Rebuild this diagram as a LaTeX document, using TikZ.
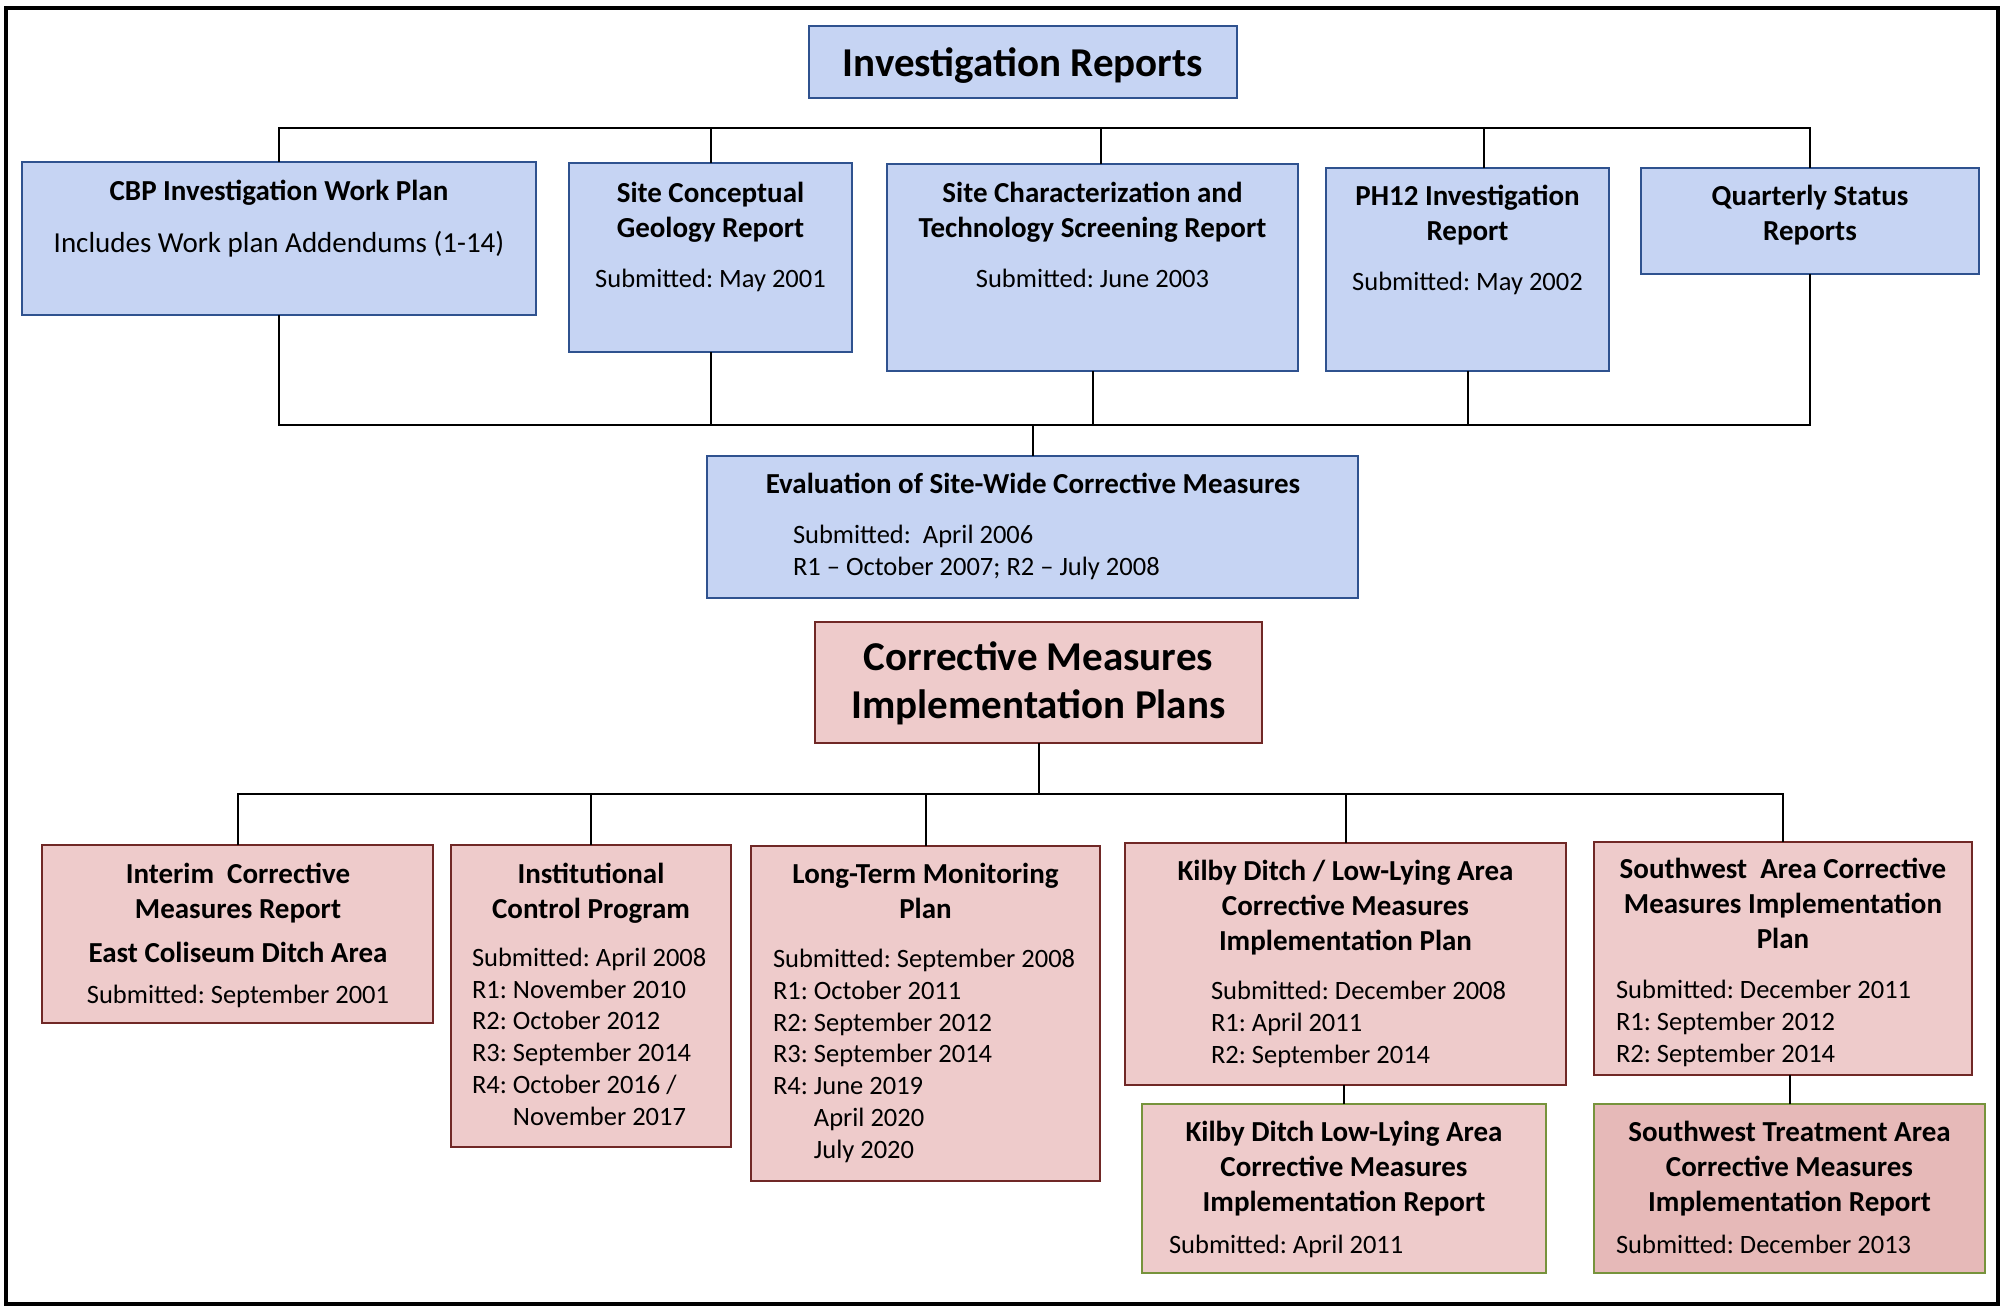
\documentclass[tikz,border=0pt]{standalone}
\usepackage{fontspec}
\setmainfont{Carlito}
\usetikzlibrary{calc}

\definecolor{invfill}{RGB}{198,212,243}
\definecolor{invline}{RGB}{47,82,143}
\definecolor{cmfill}{RGB}{238,203,203}
\definecolor{cmdark}{RGB}{230,185,184}
\definecolor{cmline}{RGB}{112,40,38}
\definecolor{rptline}{RGB}{119,147,60}
\frenchspacing

\begin{document}
\begin{tikzpicture}[x=1pt, y=-1pt,
  every node/.style={inner sep=0pt, outer sep=0pt},
  ibox/.style={draw=invline, fill=invfill, line width=2.2pt, anchor=north west},
  cbox/.style={draw=cmline, fill=cmfill, line width=2.2pt, anchor=north west},
  rbox/.style={draw=rptline, fill=cmfill, line width=2pt, anchor=north west},
  head/.style={anchor=base, align=center, font=\bfseries\fontsize{29}{35}\selectfont},
  big/.style={anchor=base, align=center, font=\bfseries\fontsize{41}{48}\selectfont},
  sub/.style={anchor=base west, align=left, font=\fontsize{26.5}{31.7}\selectfont},
  subc/.style={anchor=base, align=center, font=\fontsize{26.5}{31.7}\selectfont},
  link/.style={line width=2pt}]
\fill[white] (0,0) rectangle (2007,1307);
\draw[line width=4pt] (6,8) rectangle (1998,1304);

% investigation reports (text nodes sit on the baseline of their last line)
\node[ibox, minimum width=428, minimum height=72] (inv) at (809,26) {};
\node[ibox, minimum width=514, minimum height=153] (cbp) at (22,162) {};
\node[ibox, minimum width=283, minimum height=189] (scg) at (569,163) {};
\node[ibox, minimum width=411, minimum height=207] (sct) at (887,164) {};
\node[ibox, minimum width=283, minimum height=203] (ph) at (1326,168) {};
\node[ibox, minimum width=338, minimum height=106] (qsr) at (1641,168) {};
\node[ibox, minimum width=651, minimum height=142] (eval) at (707,456) {};

\node[big] (invt) at (1023,76) {Investigation Reports};
\node[head] (cbpt) at (279,200) {CBP Investigation Work Plan};
\node[subc, font=\fontsize{29}{35}\selectfont] (cbpd) at (279,252) {Includes Work plan Addendums (1-14)};
\node[head] (scgt) at (710.5,237) {Site Conceptual\\Geology Report};
\node[subc] (scgd) at (710.5,287) {Submitted: May 2001};
\node[head] (sctt) at (1092.5,237) {Site Characterization and\\Technology Screening Report};
\node[subc] (sctd) at (1092.5,287) {Submitted: June 2003};
\node[head] (pht) at (1467.5,240) {PH12 Investigation\\Report};
\node[subc] (phd) at (1467.5,290) {Submitted: May 2002};
\node[head] (qsrt) at (1810,240) {Quarterly Status\\Reports};
\node[head] (evalt) at (1033,493) {Evaluation of Site-Wide Corrective Measures};
\node[sub] (evald) at (793,575) {Submitted:\ \ April 2006\\R1 – October 2007; R2 – July 2008};

\coordinate (tbus) at (0,128);
\coordinate (bbus) at (0,425);
\draw[link] (cbp.north) -- (cbp.north |- tbus) -- (qsr.north |- tbus) -- (qsr.north);
\foreach \n/\dx in {scg/0, sct/8, ph/16}
\draw[link] ([xshift=\dx]\n.north) -- ([xshift=\dx]\n.north |- tbus);
\draw[link] (cbp.south) -- (cbp.south |- bbus) -- (qsr.south |- bbus) -- (qsr.south);
\foreach \n in {scg, sct, ph}
\draw[link] (\n.south) -- (\n.south |- bbus);
\draw[link] (eval.north |- bbus) -- (eval.north);

% corrective measures
\node[cbox, minimum width=447, minimum height=121] (cmip) at (815,622) {};
\node[cbox, minimum width=391, minimum height=178] (icm) at (42,845) {};
\node[cbox, minimum width=280, minimum height=302] (icp) at (451,845) {};
\node[cbox, minimum width=349, minimum height=335] (ltm) at (751,846) {};
\node[cbox, minimum width=441, minimum height=242] (kdp) at (1125,843) {};
\node[cbox, minimum width=378, minimum height=233] (swp) at (1594,842) {};
\node[rbox, minimum width=404, minimum height=169] (kdr) at (1142,1104) {};
\node[rbox, fill=cmdark, minimum width=391, minimum height=169] (swt) at (1594,1104) {};

\node[big] (cmipt) at (1038.5,718) {Corrective Measures\\Implementation Plans};
\node[head] (icmt) at (238,962) {Interim\ \ Corrective\\Measures Report\\[9pt]East Coliseum Ditch Area};
\node[subc] (icmd) at (238,1003) {Submitted: September 2001};
\node[head] (icpt) at (591,918) {Institutional\\Control Program};
\node[sub] (icpd) at (472,1125) {Submitted: April 2008\\R1: November 2010\\R2: October 2012\\R3: September 2014\\R4: October 2016 /\\\hphantom{R4: }November 2017};
\node[head] (ltmt) at (925.5,918) {Long-Term Monitoring\\Plan};
\node[sub] (ltmd) at (773,1158) {Submitted: September 2008\\R1: October 2011\\R2: September 2012\\R3: September 2014\\R4: June 2019\\\hphantom{R4: }April 2020\\\hphantom{R4: }July 2020};
\node[head] (kdpt) at (1345.5,950) {Kilby Ditch / Low-Lying Area\\Corrective Measures\\Implementation Plan};
\node[sub] (kdpd) at (1211,1063) {Submitted: December 2008\\R1: April 2011\\R2: September 2014};
\node[head] (swpt) at (1783,948) {Southwest\ \ Area Corrective\\Measures Implementation\\Plan};
\node[sub] (swpd) at (1616,1062) {Submitted: December 2011\\R1: September 2012\\R2: September 2014};
\node[head] (kdrt) at (1344,1211) {Kilby Ditch Low-Lying Area\\Corrective Measures\\Implementation Report};
\node[sub] (kdrd) at (1169,1253) {Submitted: April 2011};
\node[head] (swtt) at (1789.5,1211) {Southwest Treatment Area\\Corrective Measures\\Implementation Report};
\node[sub] (swtd) at (1616,1253) {Submitted: December 2013};

\coordinate (cbus) at (0,794);
\draw[link] (cmip.south) -- (cmip.south |- cbus);
\draw[link] (icm.north) -- (icm.north |- cbus) -- (swp.north |- cbus) -- (swp.north);
\foreach \n in {icp, ltm, kdp}
\draw[link] (\n.north) -- (\n.north |- cbus);
\draw[link] (kdr.north) -- (kdr.north |- kdp.south);
\draw[link] (swt.north) -- (swt.north |- swp.south);

\end{tikzpicture}
\end{document}
